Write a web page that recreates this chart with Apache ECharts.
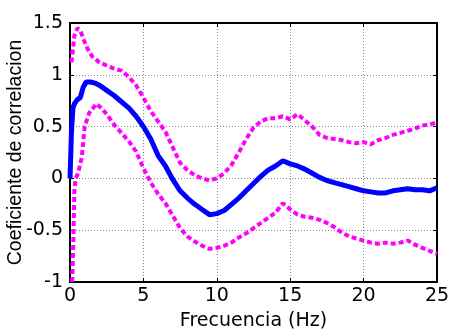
<!DOCTYPE html>
<html>
<head>
<meta charset="utf-8">
<script src="https://cdn.jsdelivr.net/npm/echarts@6/dist/echarts.min.js"></script>
<style>html,body{margin:0;padding:0;background:#fff}#c{width:451px;height:331px}</style>
</head>
<body>
<div id="c"></div>
<script>
const xTicks = [0, 5, 10, 15, 20, 25];
const yTicks = [-1, -0.5, 0, 0.5, 1, 1.5];

const meanX = [0, 0.1, 0.2, 0.3, 0.5, 0.7, 0.9, 1.1, 1.4, 1.7, 2.0, 2.5, 3.0, 3.5, 4.0, 4.5, 5.0, 5.5, 6.0, 6.5, 7.0, 7.5, 8.0, 8.5, 9.0, 9.5, 10.0, 10.5, 11.0, 11.5, 12.0, 12.5, 13.0, 13.5, 14.0, 14.5, 15.0, 15.5, 16.0, 16.5, 17.0, 17.5, 18.0, 18.5, 19.0, 19.5, 20.0, 20.5, 21.0, 21.5, 22.0, 22.5, 23.0, 23.5, 24.0, 24.5, 25.0];
const meanY = [0.0, 0.45, 0.68, 0.72, 0.76, 0.78, 0.88, 0.93, 0.93, 0.92, 0.9, 0.85, 0.8, 0.74, 0.68, 0.6, 0.5, 0.38, 0.22, 0.12, -0.01, -0.12, -0.19, -0.25, -0.3, -0.35, -0.34, -0.31, -0.25, -0.19, -0.12, -0.05, 0.02, 0.08, 0.12, 0.17, 0.14, 0.12, 0.09, 0.05, 0.01, -0.02, -0.04, -0.06, -0.08, -0.1, -0.12, -0.13, -0.14, -0.14, -0.12, -0.11, -0.10, -0.11, -0.11, -0.12, -0.09];

const upperX = [0.1, 0.3, 0.5, 0.7, 0.9, 1.2, 1.5, 2.0, 2.5, 3.0, 3.5, 4.0, 4.5, 5.0, 5.5, 6.0, 6.5, 7.0, 7.5, 8.0, 8.5, 9.0, 9.5, 10.0, 10.5, 11.0, 11.5, 12.0, 12.5, 13.0, 13.5, 14.0, 14.5, 15.0, 15.5, 16.0, 16.5, 17.0, 17.5, 18.0, 18.5, 19.0, 19.5, 20.0, 20.5, 21.0, 21.5, 22.0, 22.5, 23.0, 23.5, 24.0, 24.5, 25.0];
const upperY = [1.12, 1.38, 1.45, 1.43, 1.35, 1.25, 1.18, 1.12, 1.09, 1.06, 1.04, 0.98, 0.9, 0.78, 0.65, 0.55, 0.45, 0.3, 0.15, 0.08, 0.03, 0.0, -0.02, 0.0, 0.05, 0.13, 0.25, 0.38, 0.49, 0.55, 0.58, 0.58, 0.6, 0.57, 0.62, 0.56, 0.5, 0.42, 0.39, 0.38, 0.37, 0.35, 0.34, 0.35, 0.33, 0.37, 0.39, 0.42, 0.44, 0.46, 0.48, 0.51, 0.52, 0.54];

const lowerX = [0.15, 0.2, 0.25, 0.3, 0.4, 0.55, 0.8, 1.0, 1.3, 1.8, 2.2, 2.6, 3.0, 3.5, 4.0, 4.5, 5.0, 5.5, 6.0, 6.5, 7.0, 7.5, 8.0, 8.5, 9.0, 9.5, 10.0, 10.5, 11.0, 11.5, 12.0, 12.5, 13.0, 13.5, 14.0, 14.5, 15.0, 15.5, 16.0, 16.5, 17.0, 17.5, 18.0, 18.5, 19.0, 19.5, 20.0, 20.5, 21.0, 21.5, 22.0, 22.5, 23.0, 23.5, 24.0, 24.5, 25.0];
const lowerY = [-1.0, -0.75, -0.45, -0.1, 0.0, 0.05, 0.2, 0.5, 0.63, 0.72, 0.67, 0.6, 0.52, 0.44, 0.36, 0.26, 0.1, -0.04, -0.15, -0.24, -0.36, -0.48, -0.56, -0.61, -0.65, -0.68, -0.67, -0.65, -0.62, -0.57, -0.53, -0.48, -0.43, -0.38, -0.33, -0.24, -0.3, -0.35, -0.37, -0.38, -0.4, -0.43, -0.47, -0.52, -0.56, -0.58, -0.6, -0.62, -0.63, -0.62, -0.63, -0.62, -0.6, -0.64, -0.67, -0.7, -0.73];

const pairs = (xs, ys) => xs.map((x, i) => [x, ys[i]]);
const WIDE = 'DejaVu Sans, sans-serif';
const NARROW = 'Liberation Sans, Arial, sans-serif';

const chart = echarts.init(document.getElementById('c'), null, {renderer: 'canvas'});
const tickCommon = {show: true, inside: true, length: 4, lineStyle: {color: '#000', width: 1}};
chart.setOption({
  animation: false,
  backgroundColor: '#fff',
  grid: {left: 70, right: 14, top: 23, bottom: 49, show: false, containLabel: false, outerBoundsMode: 'none'},
  xAxis: [{
    type: 'value', min: xTicks[0], max: xTicks[xTicks.length - 1], interval: 5,
    position: 'bottom',
    name: 'Frecuencia (Hz)', nameLocation: 'middle', nameGap: 30, nameMoveOverlap: false,
    nameTextStyle: {fontFamily: WIDE, fontSize: 19, color: '#000'},
    axisLine: {show: true, onZero: false, lineStyle: {color: '#000', width: 2}},
    axisTick: tickCommon,
    axisLabel: {fontFamily: WIDE, fontSize: 19, color: '#000', margin: 5},
    splitLine: {show: true, lineStyle: {color: '#8a8a8a', width: 1, type: [1, 2]}}
  }, {
    type: 'value', min: 0, max: 25, interval: 5, position: 'top',
    axisLine: {show: true, onZero: false, lineStyle: {color: '#000', width: 2}},
    axisTick: tickCommon, axisLabel: {show: false}, splitLine: {show: false}
  }],
  yAxis: [{
    type: 'value', min: yTicks[0], max: yTicks[yTicks.length - 1], interval: 0.5,
    position: 'left',
    name: 'Coeficiente de correlacion', nameLocation: 'middle', nameGap: 44, nameMoveOverlap: false,
    nameTextStyle: {fontFamily: NARROW, fontSize: 19.5, color: '#000'},
    axisLine: {show: true, onZero: false, lineStyle: {color: '#000', width: 2}},
    axisTick: tickCommon,
    axisLabel: {fontFamily: WIDE, fontSize: 19, color: '#000', margin: 7},
    splitLine: {show: true, lineStyle: {color: '#8a8a8a', width: 1, type: [1, 2]}}
  }, {
    type: 'value', min: -1, max: 1.5, interval: 0.5, position: 'right',
    axisLine: {show: true, onZero: false, lineStyle: {color: '#000', width: 2}},
    axisTick: tickCommon, axisLabel: {show: false}, splitLine: {show: false}
  }],
  series: [{
    type: 'line', data: pairs(upperX, upperY), showSymbol: false, symbol: 'none',
    lineStyle: {color: '#ff00ff', width: 4, type: [5, 3]}
  }, {
    type: 'line', data: pairs(lowerX, lowerY), showSymbol: false, symbol: 'none',
    lineStyle: {color: '#ff00ff', width: 4, type: [5, 3]}
  }, {
    type: 'line', data: pairs(meanX, meanY), showSymbol: false, symbol: 'none',
    lineStyle: {color: '#0000ff', width: 5}
  }]
});
</script>
</body>
</html>
